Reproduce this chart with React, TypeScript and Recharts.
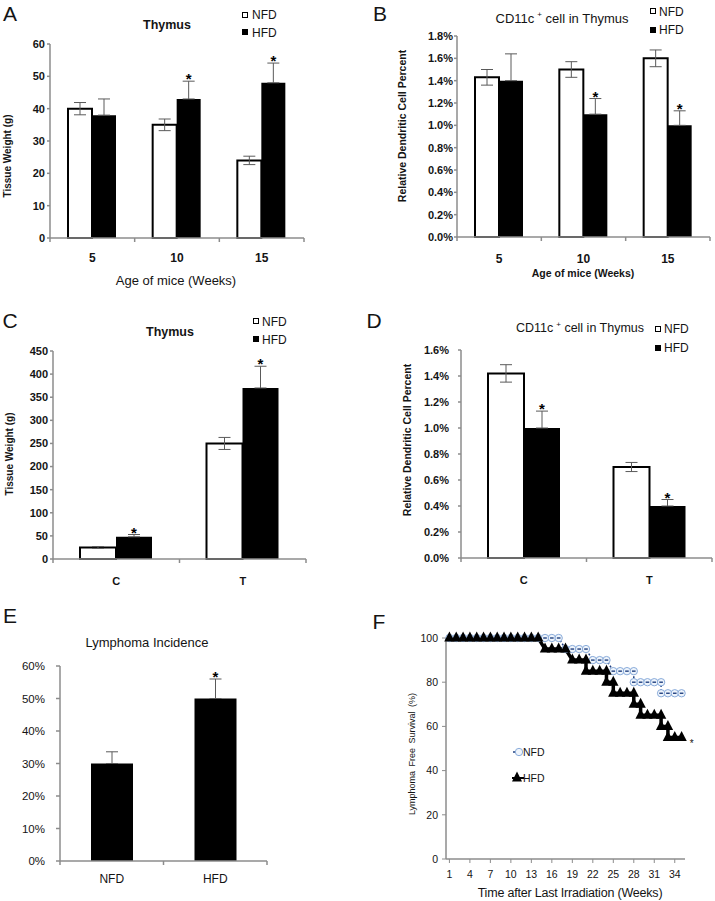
import React from "react";
import { BarChart, Bar, XAxis, YAxis, ErrorBar, LabelList, LineChart, Line } from "recharts";

const FONT = '"Liberation Sans", Arial, Helvetica, sans-serif';
const AXIS = "#8c8c8c";
const ERR = "#5a5a5a";
const INK = "#141414";

// A: thymus weight by age
const ageWeeks = ["5", "10", "15"];
const thymusNfd = [40, 35, 24];
const thymusNfdErr = [1.9, 1.8, 1.3];
const thymusHfd = [38, 43, 48];
const thymusHfdErr = [5, 5.5, 6.1];
const thymusSig = [false, true, true];
const thymusTicks = [0, 10, 20, 30, 40, 50, 60];

// B: CD11c+ cells by age (%)
const dcNfd = [1.43, 1.5, 1.6];
const dcNfdErr = [0.07, 0.07, 0.075];
const dcHfd = [1.4, 1.1, 1.0];
const dcHfdErr = [0.24, 0.14, 0.13];
const dcSig = [false, true, true];
const dcTicks = [0, 0.2, 0.4, 0.6, 0.8, 1.0, 1.2, 1.4, 1.6, 1.8];

// C: thymus weight, control vs tumour
const tumorGroups = ["C", "T"];
const thymusCtNfd = [25, 250];
const thymusCtNfdErr = [2, 13];
const thymusCtHfd = [48, 370];
const thymusCtHfdErr = [5, 47];
const thymusCtSig = [true, true];
const thymusCtTicks = [0, 50, 100, 150, 200, 250, 300, 350, 400, 450];

// D: CD11c+ cells, control vs tumour (%)
const dcCtNfd = [1.42, 0.7];
const dcCtNfdErr = [0.067, 0.035];
const dcCtHfd = [1.0, 0.4];
const dcCtHfdErr = [0.13, 0.05];
const dcCtSig = [true, true];
const dcCtTicks = [0, 0.2, 0.4, 0.6, 0.8, 1.0, 1.2, 1.4, 1.6];

// E: lymphoma incidence (%)
const dietGroups = ["NFD", "HFD"];
const incidence = [30, 50];
const incidenceErr = [3.6, 6];
const incidenceSig = [false, true];
const incidenceTicks = [0, 10, 20, 30, 40, 50, 60];

// F: lymphoma free survival
const hfdWeeks = [1, 2, 3, 4, 5, 6, 7, 8, 9, 10, 11, 12, 13, 14, 15, 16, 17, 18, 19, 20, 21, 21, 22, 23, 24, 24, 25, 25, 26, 27, 28, 28, 29, 29, 30, 31, 32, 32, 33, 33, 34, 35];
const hfdSurvival = [100, 100, 100, 100, 100, 100, 100, 100, 100, 100, 100, 100, 100, 100, 95, 95, 95, 95, 90, 90, 90, 85, 85, 85, 85, 80, 80, 75, 75, 75, 75, 70, 70, 65, 65, 65, 65, 60, 60, 55, 55, 55];
const nfdWeeks = [1, 2, 3, 4, 5, 6, 7, 8, 9, 10, 11, 12, 13, 14, 15, 16, 17, 18, 19, 20, 21, 22, 23, 24, 25, 26, 27, 28, 28, 29, 30, 31, 32, 32, 33, 34, 35];
const nfdSurvival = [100, 100, 100, 100, 100, 100, 100, 100, 100, 100, 100, 100, 100, 100, 100, 100, 100, 95, 95, 95, 95, 90, 90, 90, 85, 85, 85, 85, 80, 80, 80, 80, 80, 75, 75, 75, 75];
const hfdSig = true;
const weekTicks = [1, 4, 7, 10, 13, 16, 19, 22, 25, 28, 31, 34];
const survivalTicks = [0, 20, 40, 60, 80, 100];

const pct1 = (v: number) => `${v.toFixed(1)}%`;
const pct0 = (v: number) => `${v}%`;
const plain = (v: number) => `${v}`;

function T({ x, y, s, w = "normal", rot = false, left = false, children, style }: any) {
  const tr = left ? "translate(0,-50%)" : "translate(-50%,-50%)";
  return (
    <div
      style={{
        position: "absolute",
        left: x,
        top: y,
        transform: tr + (rot ? " rotate(-90deg)" : ""),
        fontSize: s,
        fontWeight: w,
        fontFamily: FONT,
        whiteSpace: "nowrap",
        lineHeight: 1,
        color: INK,
        ...style,
      }}
    >
      {children}
    </div>
  );
}

function Box({ x, y, filled }: { x: number; y: number; filled?: boolean }) {
  return (
    <div
      style={{
        position: "absolute",
        left: x,
        top: y,
        width: 4,
        height: 4,
        border: "1.5px solid #000",
        background: filled ? "#000" : "#fff",
      }}
    />
  );
}

function makeCatTick(half: number, count: number, dy: number, size: number, weight: string) {
  return (p: any) => {
    const { x, y, payload, index } = p;
    return (
      <g>
        <line x1={x - half} x2={x - half} y1={y} y2={y + 4} stroke={AXIS} strokeWidth={1.5} />
        {index === count - 1 && (
          <line x1={x + half} x2={x + half} y1={y} y2={y + 4} stroke={AXIS} strokeWidth={1.5} />
        )}
        <text x={x} y={y + dy} textAnchor="middle" dominantBaseline="central" fontSize={size} fontWeight={weight} fontFamily={FONT} fill={INK}>
          {payload.value}
        </text>
      </g>
    );
  };
}

function starLabel(errs: number[], sig: boolean[]) {
  return (p: any) => {
    const vb = p.viewBox ?? p;
    const i = p.index;
    if (!sig[i]) return null;
    const x = vb.x ?? p.x;
    const y = vb.y ?? p.y;
    const w = vb.width ?? p.width;
    const h = vb.height ?? p.height;
    const v = Number(p.value);
    const top = Math.min(y, y + h);
    const errPx = v ? (Math.abs(h) * errs[i]) / v : 0;
    return (
      <text key={`s${i}`} x={x + w / 2} y={top - errPx + 3} textAnchor="middle" fontSize={15} fontWeight="bold" fontFamily={FONT} fill="#000">
        *
      </text>
    );
  };
}

function GroupedBars(props: any) {
  const { left, top, width, height, m, yWidth, cats, nfd, nfdErr, hfd, hfdErr, sig, yMax, yTicks, yFmt, barSize, catDy, catSize, yTickSize, yTickMargin, yFont } = props;
  const rows = cats.map((c: string, i: number) => ({
    cat: c,
    nfd: nfd[i],
    nfdErr: nfdErr[i],
    hfd: hfd[i],
    hfdErr: [0, hfdErr[i]],
  }));
  const plotW = width - m.left - m.right - yWidth;
  const half = plotW / cats.length / 2;
  return (
    <div style={{ position: "absolute", left, top }}>
      <BarChart width={width} height={height} data={rows} margin={m} barGap={0} barSize={barSize}>
        <XAxis
          dataKey="cat"
          height={30}
          interval={0}
          tickLine={false}
          tickSize={0}
          tickMargin={0}
          axisLine={{ stroke: AXIS, strokeWidth: 1.5 }}
          tick={makeCatTick(half, cats.length, catDy, catSize, "bold")}
        />
        <YAxis
          type="number"
          domain={[0, yMax]}
          ticks={yTicks}
          interval={0}
          width={yWidth}
          tickSize={yTickSize}
          tickMargin={yTickMargin}
          axisLine={{ stroke: AXIS, strokeWidth: 1.5 }}
          tickLine={{ stroke: AXIS, strokeWidth: 1.5 }}
          tick={{ fontSize: yFont, fontWeight: "bold", fill: INK, fontFamily: FONT }}
          tickFormatter={yFmt}
        />
        <Bar dataKey="nfd" fill="#fff" stroke="#000" strokeWidth={2} isAnimationActive={false}>
          <ErrorBar dataKey="nfdErr" width={6} stroke={ERR} strokeWidth={1} />
        </Bar>
        <Bar dataKey="hfd" fill="#000" isAnimationActive={false}>
          <ErrorBar dataKey="hfdErr" width={6} stroke={ERR} strokeWidth={1} />
          <LabelList dataKey="hfd" content={starLabel(hfdErr, sig)} />
        </Bar>
      </BarChart>
    </div>
  );
}

function IncidenceChart() {
  const rows = dietGroups.map((g, i) => ({ grp: g, v: incidence[i], err: [0, incidenceErr[i]] }));
  const half = 207 / dietGroups.length / 2;
  return (
    <div style={{ position: "absolute", left: 0, top: 600 }}>
      <BarChart width={360} height={301} data={rows} margin={{ top: 66, right: 93, bottom: 10, left: 0 }} barSize={42}>
        <XAxis
          dataKey="grp"
          height={30}
          interval={0}
          tickLine={false}
          tickSize={0}
          tickMargin={0}
          axisLine={{ stroke: AXIS, strokeWidth: 1.5 }}
          tick={makeCatTick(half, dietGroups.length, 18, 12, "normal")}
        />
        <YAxis
          type="number"
          domain={[0, 60]}
          ticks={incidenceTicks}
          interval={0}
          width={60}
          tickSize={4}
          tickMargin={11}
          axisLine={{ stroke: AXIS, strokeWidth: 1.5 }}
          tickLine={{ stroke: AXIS, strokeWidth: 1.5 }}
          tick={{ fontSize: 11.5, fill: INK, fontFamily: FONT }}
          tickFormatter={pct0}
        />
        <Bar dataKey="v" fill="#000" isAnimationActive={false}>
          <ErrorBar dataKey="err" width={6} stroke={ERR} strokeWidth={1} />
          <LabelList dataKey="v" content={starLabel(incidenceErr, incidenceSig)} />
        </Bar>
      </BarChart>
    </div>
  );
}

const triDot = (p: any) => (
  <polygon
    key={`h${p.index}`}
    points={`${p.cx - 5.2},${p.cy + 3.5} ${p.cx},${p.cy - 6.5} ${p.cx + 5.2},${p.cy + 3.5}`}
    fill="#000"
  />
);

const circDot = (p: any) => (
  <g key={`n${p.index}`}>
    <circle cx={p.cx} cy={p.cy} r={3.7} fill="#eef4fb" stroke="#7ea3d6" strokeWidth={0.9} />
    <line x1={p.cx - 1.8} x2={p.cx + 1.8} y1={p.cy} y2={p.cy} stroke="#1f3f7f" strokeWidth={1.4} />
  </g>
);

const lastStar = (p: any) => {
  if (!hfdSig || p.index !== hfdWeeks.length - 1) return null;
  const x = p.x ?? p.viewBox?.x;
  const y = p.y ?? p.viewBox?.y;
  return (
    <text key="star" x={x + 10} y={y + 10} textAnchor="middle" fontSize={10} fontFamily={FONT} fill={INK}>
      *
    </text>
  );
};

function SurvivalChart() {
  const hfdRows = hfdWeeks.map((w, i) => ({ week: w, s: hfdSurvival[i] }));
  const nfdRows = nfdWeeks.map((w, i) => ({ week: w, s: nfdSurvival[i] }));
  return (
    <div style={{ position: "absolute", left: 360, top: 600 }}>
      <LineChart width={355} height={301} margin={{ top: 38, right: 30, bottom: 12, left: 0 }}>
        <XAxis
          type="number"
          dataKey="week"
          domain={[0.5, 35.5]}
          ticks={weekTicks}
          interval={0}
          height={30}
          tickSize={4}
          tickMargin={8}
          axisLine={{ stroke: AXIS, strokeWidth: 1.5 }}
          tickLine={{ stroke: AXIS, strokeWidth: 1 }}
          tick={{ fontSize: 10.5, fill: INK, fontFamily: FONT }}
          allowDuplicatedCategory={false}
        />
        <YAxis
          type="number"
          domain={[0, 100]}
          ticks={survivalTicks}
          interval={0}
          width={86}
          tickSize={4}
          tickMargin={4}
          axisLine={{ stroke: AXIS, strokeWidth: 1.5 }}
          tickLine={{ stroke: AXIS, strokeWidth: 1 }}
          tick={{ fontSize: 10.5, fill: INK, fontFamily: FONT }}
          tickFormatter={plain}
        />
        <Line data={nfdRows} dataKey="s" type="linear" stroke="#1f3f7f" strokeWidth={1.5} strokeDasharray="2 2" dot={circDot} isAnimationActive={false} />
        <Line data={hfdRows} dataKey="s" type="linear" stroke="#000" strokeWidth={3.5} dot={triDot} isAnimationActive={false}>
          <LabelList dataKey="s" content={lastStar} />
        </Line>
      </LineChart>
    </div>
  );
}

export default function App() {
  return (
    <div style={{ position: "absolute", left: 0, top: 0, width: 715, height: 901, background: "#fff", overflow: "hidden" }}>
      {/* A */}
      <GroupedBars
        left={0} top={0} width={360} height={300}
        m={{ top: 44, right: 56, bottom: 32, left: 0 }} yWidth={50}
        cats={ageWeeks} nfd={thymusNfd} nfdErr={thymusNfdErr} hfd={thymusHfd} hfdErr={thymusHfdErr} sig={thymusSig}
        yMax={60} yTicks={thymusTicks} yFmt={plain} barSize={24} catDy={20} catSize={12}
        yTickSize={3} yTickMargin={2} yFont={11}
      />
      {/* B */}
      <GroupedBars
        left={360} top={0} width={355} height={300}
        m={{ top: 36, right: 5, bottom: 33, left: 0 }} yWidth={97}
        cats={ageWeeks} nfd={dcNfd} nfdErr={dcNfdErr} hfd={dcHfd} hfdErr={dcHfdErr} sig={dcSig}
        yMax={1.8} yTicks={dcTicks} yFmt={pct1} barSize={24} catDy={22} catSize={12}
        yTickSize={3} yTickMargin={1} yFont={11}
      />
      {/* C */}
      <GroupedBars
        left={0} top={300} width={360} height={300}
        m={{ top: 51, right: 54, bottom: 11, left: 0 }} yWidth={53}
        cats={tumorGroups} nfd={thymusCtNfd} nfdErr={thymusCtNfdErr} hfd={thymusCtHfd} hfdErr={thymusCtHfdErr} sig={thymusCtSig}
        yMax={450} yTicks={thymusCtTicks} yFmt={plain} barSize={36} catDy={22} catSize={11}
        yTickSize={3} yTickMargin={2} yFont={11}
      />
      {/* D */}
      <GroupedBars
        left={360} top={300} width={355} height={300}
        m={{ top: 50, right: 3, bottom: 12, left: 0 }} yWidth={101}
        cats={tumorGroups} nfd={dcCtNfd} nfdErr={dcCtNfdErr} hfd={dcCtHfd} hfdErr={dcCtHfdErr} sig={dcCtSig}
        yMax={1.6} yTicks={dcCtTicks} yFmt={pct1} barSize={36} catDy={22} catSize={11}
        yTickSize={3} yTickMargin={9} yFont={11}
      />
      <IncidenceChart />
      <SurvivalChart />

      {/* panel letters */}
      <T x={10} y={13} s={21}>A</T>
      <T x={380} y={13} s={21}>B</T>
      <T x={10} y={320} s={21}>C</T>
      <T x={374} y={320} s={21}>D</T>
      <T x={10} y={615} s={21}>E</T>
      <T x={379} y={621} s={21}>F</T>

      {/* titles */}
      <T x={167} y={25} s={12.5} w="bold">Thymus</T>
      <T x={562} y={18} s={13}>CD11c<sup style={{ fontSize: 8, marginLeft: 3 }}>+</sup> cell in Thymus</T>
      <T x={170} y={332} s={12.5} w="bold">Thymus</T>
      <T x={580} y={328} s={12.5}>CD11c<sup style={{ fontSize: 8, marginLeft: 3 }}>+</sup> cell in Thymus</T>
      <T x={147} y={642} s={13}>Lymphoma Incidence</T>

      {/* axis titles */}
      <T x={176} y={280} s={13}>Age of mice (Weeks)</T>
      <T x={8} y={156} s={10} w="bold" rot>Tissue Weight (g)</T>
      <T x={583} y={273} s={10.5} w="bold">Age of mice (Weeks)</T>
      <T x={402} y={126} s={10.5} w="bold" rot>Relative Dendritic Cell Percent</T>
      <T x={10} y={454} s={10} w="bold" rot>Tissue Weight (g)</T>
      <T x={407} y={440} s={10.5} w="bold" rot>Relative Dendritic Cell Percent</T>
      <T x={412} y={754} s={9} rot style={{ wordSpacing: 2 }}>Lymphoma Free Survival (%)</T>
      <T x={570} y={893} s={12.5} style={{ letterSpacing: -0.2 }}>Time after Last Irradiation (Weeks)</T>

      {/* legends A-D */}
      <Box x={242} y={12} />
      <T x={252} y={15} s={12} left>NFD</T>
      <Box x={242} y={29} filled />
      <T x={252} y={33} s={12} left>HFD</T>

      <Box x={650} y={8} />
      <T x={659} y={12} s={12} left>NFD</T>
      <Box x={650} y={27} filled />
      <T x={659} y={30} s={12} left>HFD</T>

      <Box x={253} y={318} />
      <T x={262} y={322} s={12} left>NFD</T>
      <Box x={253} y={336} filled />
      <T x={262} y={340} s={12} left>HFD</T>

      <Box x={655} y={326} />
      <T x={664} y={329} s={12} left>NFD</T>
      <Box x={655} y={345} filled />
      <T x={664} y={348} s={12} left>HFD</T>

      {/* legend F */}
      <svg style={{ position: "absolute", left: 505, top: 740 }} width={20} height={45}>
        <circle cx={9} cy={12} r={1} fill="#1f3f7f" />
        <circle cx={14} cy={12} r={3.7} fill="#eef4fb" stroke="#7ea3d6" strokeWidth={0.9} />
        <line x1={7} x2={19} y1={38} y2={38} stroke="#000" strokeWidth={2} />
        <polygon points="7,41.5 12,31.5 17,41.5" fill="#000" />
      </svg>
      <T x={523} y={752} s={10.5} left>NFD</T>
      <T x={523} y={778} s={10.5} left>HFD</T>
    </div>
  );
}
